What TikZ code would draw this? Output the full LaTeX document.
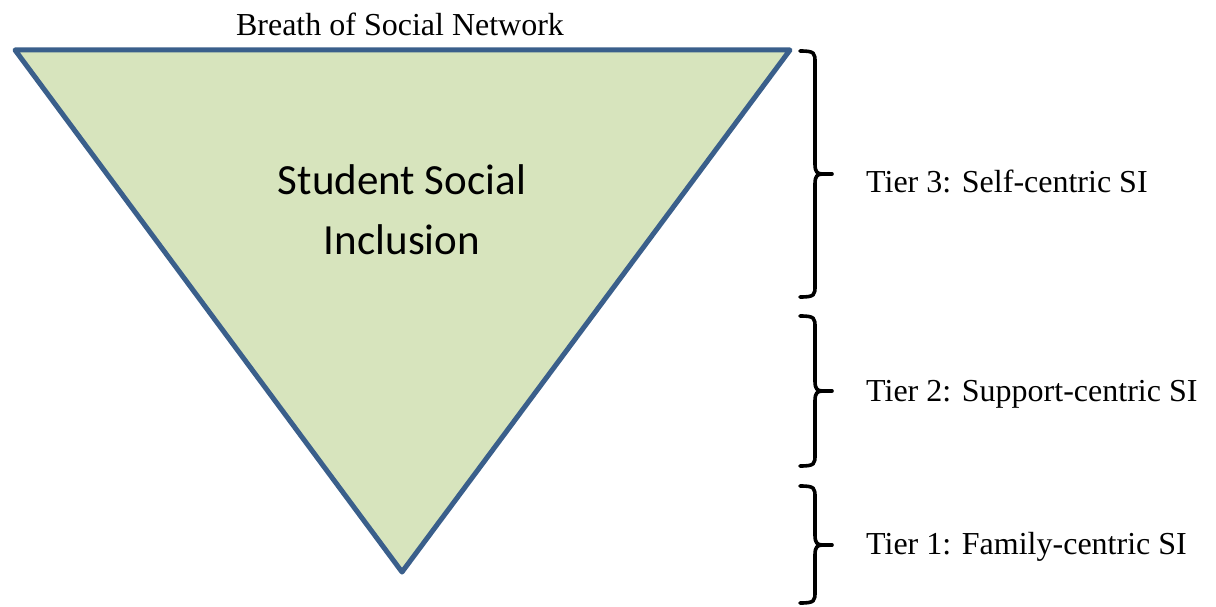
\documentclass[tikz,border=0pt]{standalone}
\usepackage{fontspec}
\setmainfont{Liberation Serif}
\newfontfamily\calib{Carlito}
\definecolor{triblue}{HTML}{3A5F8B}
\definecolor{trifill}{HTML}{D7E4BD}
\tikzset{
  tiertext/.style={anchor=west, font=\fontsize{32}{36}\selectfont, inner sep=0pt},
  bracepath/.style={draw=black, line width=3.6pt, line cap=round, line join=round},
}
\newcommand\tierbrace[3]{%
  \draw[bracepath] (800,#1) .. controls (815,#1) and (815,#1+2) .. (815,#1+12)
    -- (815,#2-10) .. controls (815,#2-2) and (817,#2) .. (823,#2)
    .. controls (817,#2) and (815,#2+2) .. (815,#2+10)
    -- (815,#3-12) .. controls (815,#3-2) and (815,#3) .. (800,#3);
  \draw[bracepath] (821,#2) -- (832,#2);
}
\begin{document}
\begin{tikzpicture}[x=1pt,y=-1pt]
\useasboundingbox (0,0) rectangle (1216,607);
\coordinate (tl) at (15,50);
\coordinate (tr) at (790,50);
\coordinate (bt) at (402,572);
\draw[triblue, fill=trifill, line width=5pt, line join=round] (tl) -- (tr) -- (bt) -- cycle;
\node[font=\fontsize{32}{36}\selectfont, inner sep=0pt] (title) at (400,24) {Breath of Social Network};
\node[font=\calib\fontsize{43}{60}\selectfont, align=center, inner sep=0pt] (center) at (402,210) {Student Social\\Inclusion};
\tierbrace{51}{174}{297}
\tierbrace{316}{391}{466}
\tierbrace{486}{545}{603}
\node[tiertext] (t3) at (866,181) {Tier 3: Self-centric SI};
\node[tiertext] (t2) at (866,394) {Tier 2: Support-centric SI};
\node[tiertext] (t1) at (866,547) {Tier 1: Family-centric SI};
\end{tikzpicture}
\end{document}
